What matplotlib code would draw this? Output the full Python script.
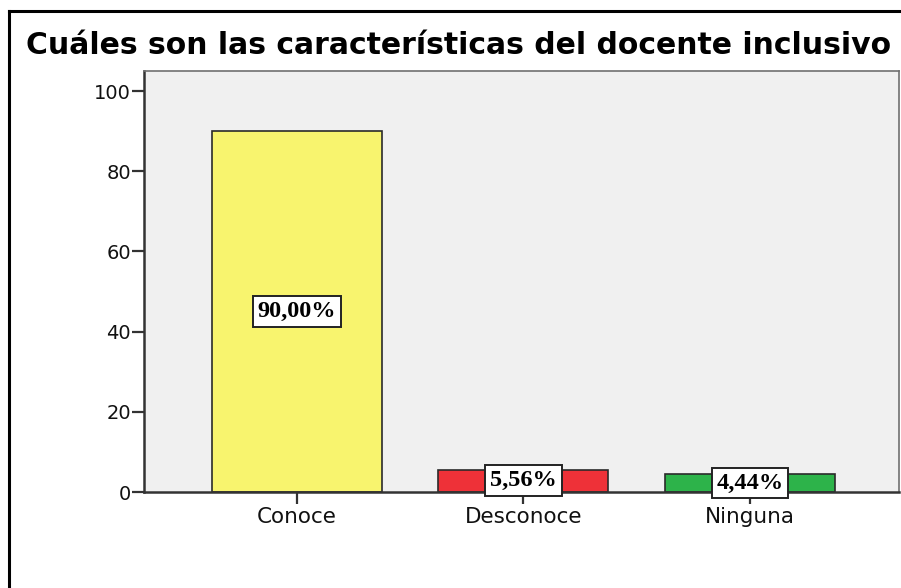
import matplotlib
matplotlib.use("Agg")
import matplotlib.pyplot as plt
from matplotlib.lines import Line2D

categories = ["Conoce", "Desconoce", "Ninguna"]
values = [90.00, 5.56, 4.44]
labels = ["90,00%", "5,56%", "4,44%"]
colors = ["#F8F46E", "#EE3138", "#2DB34A"]
yticks = [0, 20, 40, 60, 80, 100]

fig = plt.figure(figsize=(9.01, 5.88), dpi=100)
ax = fig.add_axes([144 / 901, 1 - 492 / 588, (899 - 144) / 901, (492 - 71) / 588])
ax.set_facecolor("#F0F0F0")

x = range(len(categories))
ax.bar(x, values, width=0.75, color=colors, edgecolor="#2a2a2a", linewidth=1.2, zorder=2)

for xi, v, lab in zip(x, values, labels):
    ax.text(xi, v / 2, lab, ha="center", va="center", fontsize=17.5, fontweight="bold",
            family="Liberation Serif", zorder=3,
            bbox=dict(boxstyle="square,pad=0.2", facecolor="white", edgecolor="#222222", linewidth=1.4))

ax.set_xlim(-0.675, 2.658)
ax.set_ylim(0, 105)
ax.set_xticks(list(x))
ax.set_xticklabels(categories, family="DejaVu Sans", fontsize=15.5, color="#111111")
ax.set_yticks(yticks)
ax.set_yticklabels([str(t) for t in yticks], family="DejaVu Sans", fontsize=14, color="#111111")
ax.tick_params(axis="both", direction="out", length=8.5, width=1.6, color="#333333", pad=1)
ax.tick_params(axis="x", pad=2)

for s in ["left", "bottom"]:
    ax.spines[s].set_color("#333333")
    ax.spines[s].set_linewidth(1.8)
for s in ["top", "right"]:
    ax.spines[s].set_color("#707070")
    ax.spines[s].set_linewidth(1.2)

fig.text(459 / 901, 1 - 46 / 588, "Cuáles son las características del docente inclusivo",
         ha="center", va="center", fontsize=21.5, fontweight="bold", family="DejaVu Sans")

# outer frame (left and top edges visible)
fig.add_artist(Line2D([8.5 / 901, 8.5 / 901], [0, 1 - 10.5 / 588], color="black", linewidth=2.2,
                      transform=fig.transFigure))
fig.add_artist(Line2D([8.5 / 901, 1], [1 - 10.5 / 588, 1 - 10.5 / 588], color="black", linewidth=2.2,
                      transform=fig.transFigure))

fig.savefig("out.png", dpi=100)
